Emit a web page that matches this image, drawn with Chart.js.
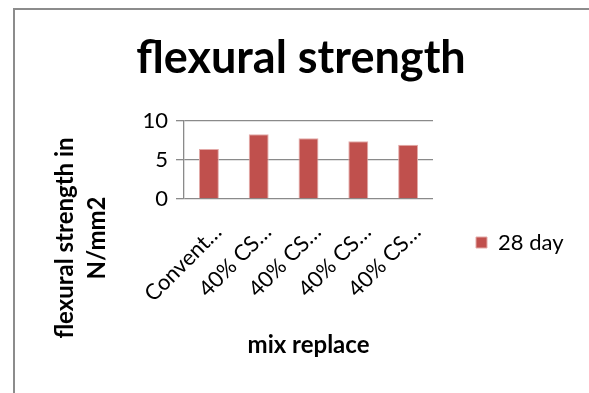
<!DOCTYPE html>
<html lang="en">
<head>
<meta charset="UTF-8">
<title>flexural strength</title>
<script src="https://cdn.jsdelivr.net/npm/chart.js"></script>
<style>
    html,
    body {
        margin: 0;
        padding: 0;
        background: #ffffff;
        overflow: hidden;
    }

    .frame {
        position: absolute;
        left: 13px;
        top: 8px;
        width: 620px;
        height: 420px;
        border-left: 2px solid #8c8c8c;
        border-top: 2px solid #8c8c8c;
    }

    #chart {
        position: absolute;
        left: 0;
        top: 0;
    }
</style>
</head>
<body>
<div class="frame"></div>
<canvas id="chart" width="589" height="393"></canvas>

<script>
    // data
    const categories = ['Convent…', '40% CS…', '40% CS…', '40% CS…', '40% CS…'];
    const day28 = [6.4, 8.3, 7.8, 7.4, 6.95];
    const yTicks = [0, 5, 10];
    const seriesName = '28 day';
    const chartTitle = 'flexural strength';
    const xTitle = 'mix replace';
    const yTitleLines = ['flexural strength in', 'N/mm2'];

    const FONT = 'Lato';
    const GRID = '#8a8a8a';

    // the y title sits lower than the plot in the original, so draw it ourselves
    const yTitlePlugin = {
        id: 'yTitle',
        afterDraw(chart) {
            const ctx = chart.ctx;
            ctx.save();
            ctx.fillStyle = '#000';
            ctx.font = 'bold 24px ' + FONT;
            ctx.textAlign = 'center';
            ctx.textBaseline = 'alphabetic';
            ctx.translate(0, 238);
            ctx.rotate(-Math.PI / 2);
            ctx.fillText(yTitleLines[0], 0, 73);
            ctx.fillText(yTitleLines[1], 0, 105);
            ctx.restore();
        }
    };

    const myChart = new Chart(document.getElementById('chart'), {
        type: 'bar',
        data: {
            labels: categories,
            datasets: [{
                label: seriesName,
                data: day28,
                backgroundColor: '#C0504D',
                borderColor: '#E3AAA8',
                borderWidth: 1,
                categoryPercentage: 1,
                barPercentage: 0.4
            }]
        },
        options: {
            responsive: false,
            animation: false,
            layout: {
                padding: { left: 37, right: 24, top: 0, bottom: 0 }
            },
            plugins: {
                title: {
                    display: true,
                    text: chartTitle,
                    color: '#000',
                    font: { family: FONT, size: 45, weight: 'bold' },
                    padding: { top: 31, bottom: 36 }
                },
                legend: {
                    position: 'right',
                    title: { display: true, text: '', padding: { top: 77.6, bottom: 0 } },
                    labels: {
                        boxWidth: 11,
                        boxHeight: 11,
                        padding: 43,
                        color: '#000',
                        font: { family: FONT, size: 22 }
                    }
                },
                tooltip: { enabled: false }
            },
            scales: {
                x: {
                    grid: { display: false },
                    border: { display: false },
                    ticks: {
                        color: '#000',
                        font: { family: FONT, size: 22 },
                        minRotation: 45,
                        maxRotation: 45,
                        autoSkip: false,
                        padding: 12,
                        labelOffset: 9
                    },
                    title: {
                        display: true,
                        text: xTitle,
                        color: '#000',
                        font: { family: FONT, size: 24, weight: 'bold' },
                        padding: { top: 0, bottom: 33 }
                    },
                    afterFit(scale) { scale.height = 194; }
                },
                y: {
                    min: yTicks[0],
                    max: yTicks[yTicks.length - 1],
                    ticks: {
                        stepSize: yTicks[1] - yTicks[0],
                        color: '#000',
                        padding: 8,
                        font: { family: FONT, size: 22 }
                    },
                    grid: { color: GRID, lineWidth: 1.3, tickLength: 8 },
                    border: { color: GRID, width: 1.3 },
                    afterFit(scale) { scale.width = 147; }
                }
            }
        },
        plugins: [yTitlePlugin]
    });
</script>
</body>
</html>
